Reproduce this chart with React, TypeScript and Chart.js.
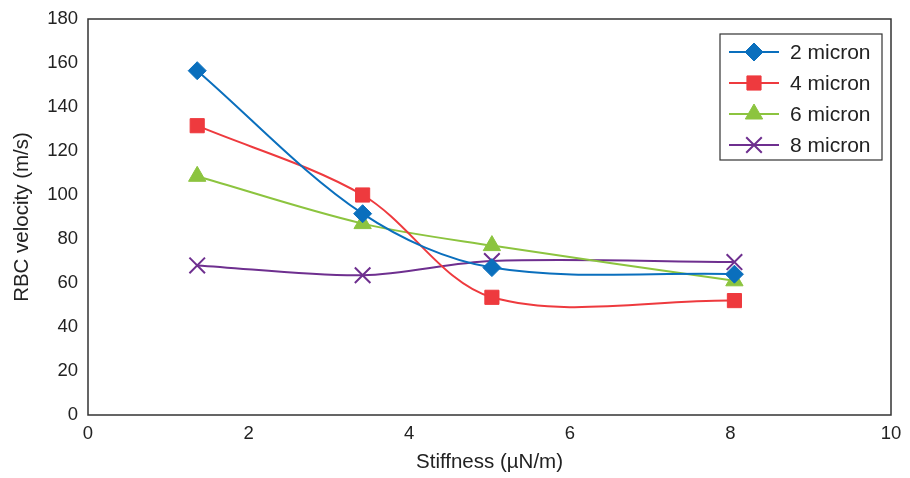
import React, { useEffect, useRef } from "react";
import { Chart, registerables } from "chart.js";
import { drawPoint } from "chart.js/helpers";

Chart.register(...registerables);

const stiffness = [1.36, 3.42, 5.03, 8.05];
const seriesNames = ["2 micron", "4 micron", "6 micron", "8 micron"];
const micron2 = [156.5, 91.5, 67, 64];
const micron4 = [131.5, 100, 53.5, 52];
const micron6 = [108.5, 87, 77, 61];
const micron8 = [68, 63.5, 70, 69.5];
const xTicks = [0, 2, 4, 6, 8, 10];
const yTicks = [0, 20, 40, 60, 80, 100, 120, 140, 160, 180];

const colors = ["#0a6fbd", "#ee3a3e", "#8cc43f", "#6e2f8f"];
const styles = ["rectRot", "rect", "triangle", "crossRot"];
const radii = [9, 10, 10, 11];

const FONT = "'Liberation Sans', Arial, Helvetica, sans-serif";

const boxPlugin = {
  id: "boxAndLegend",
  afterDraw(chart: any) {
    const { ctx, chartArea } = chart;
    ctx.save();
    ctx.strokeStyle = "#333";
    ctx.lineWidth = 1.5;
    ctx.strokeRect(chartArea.left, chartArea.top, chartArea.right - chartArea.left, chartArea.bottom - chartArea.top);

    // legend
    const bx = chartArea.right - 171;
    const by = chartArea.top + 15;
    const bw = 162;
    const bh = 126;
    ctx.fillStyle = "#fff";
    ctx.fillRect(bx, by, bw, bh);
    ctx.lineWidth = 1.2;
    ctx.strokeStyle = "#333";
    ctx.strokeRect(bx, by, bw, bh);
    chart.data.datasets.forEach((ds: any, i: number) => {
      const y = by + 18 + i * 31;
      ctx.strokeStyle = ds.borderColor;
      ctx.lineWidth = 2;
      ctx.beginPath();
      ctx.moveTo(bx + 9, y);
      ctx.lineTo(bx + 59, y);
      ctx.stroke();
      ctx.fillStyle = ds.borderColor;
      ctx.strokeStyle = ds.borderColor;
      ctx.lineWidth = ds.pointBorderWidth;
      drawPoint(ctx, { pointStyle: ds.pointStyle, radius: ds.pointRadius, rotation: 0, borderWidth: ds.pointBorderWidth } as any, bx + 34, y);
      ctx.fillStyle = "#222";
      ctx.font = `21px ${FONT}`;
      ctx.textBaseline = "middle";
      ctx.textAlign = "left";
      ctx.fillText(ds.label, bx + 70, y + 1);
    });
    ctx.restore();
  },
};

export default function App() {
  const ref = useRef<HTMLCanvasElement>(null);
  useEffect(() => {
    const all = [micron2, micron4, micron6, micron8];
    const chart = new Chart(ref.current!, {
      type: "line",
      data: {
        datasets: all.map((vals, i) => ({
          label: seriesNames[i],
          data: stiffness.map((x, j) => ({ x, y: vals[j] })),
          borderColor: colors[i],
          backgroundColor: colors[i],
          pointBackgroundColor: colors[i],
          pointBorderColor: colors[i],
          pointStyle: styles[i],
          pointRadius: radii[i],
          pointBorderWidth: i === 3 ? 2 : 1,
          borderWidth: 2,
          tension: 0.33,
          fill: false,
        })),
      },
      options: {
        animation: false,
        responsive: false,
        devicePixelRatio: 1,
        layout: { padding: { left: 0, right: 19, top: 19, bottom: 0 } },
        plugins: { legend: { display: false }, tooltip: { enabled: false } },
        scales: {
          x: {
            type: "linear",
            min: 0,
            max: 10,
            afterBuildTicks: (s: any) => { s.ticks = xTicks.map((v) => ({ value: v })); },
            afterFit: (s: any) => { s.height = 63; },
            grid: { display: false, drawTicks: false },
            border: { display: false },
            ticks: { font: { size: 18.5, family: FONT }, color: "#222", padding: 8 },
            title: { display: true, text: "Stiffness (µN/m)", font: { size: 20.5, family: FONT }, color: "#222", padding: { top: 4, bottom: 3 } },
          },
          y: {
            type: "linear",
            min: 0,
            max: 180,
            afterBuildTicks: (s: any) => { s.ticks = yTicks.map((v) => ({ value: v })); },
            afterFit: (s: any) => { s.width = 88; s.paddingTop = 0; s.paddingBottom = 0; },
            grid: { display: false, drawTicks: false },
            border: { display: false },
            ticks: { font: { size: 18.5, family: FONT }, color: "#222", padding: 10 },
            title: { display: true, text: "RBC velocity (m/s)", font: { size: 20.5, family: FONT }, color: "#222", padding: { top: 10, bottom: 0 } },
          },
        },
      },
      plugins: [boxPlugin],
    });
    return () => chart.destroy();
  }, []);
  return (
    <div style={{ position: "absolute", left: 0, top: 0, width: 910, height: 478 }}>
      <canvas ref={ref} width={910} height={478} style={{ width: 910, height: 478 }} />
    </div>
  );
}
